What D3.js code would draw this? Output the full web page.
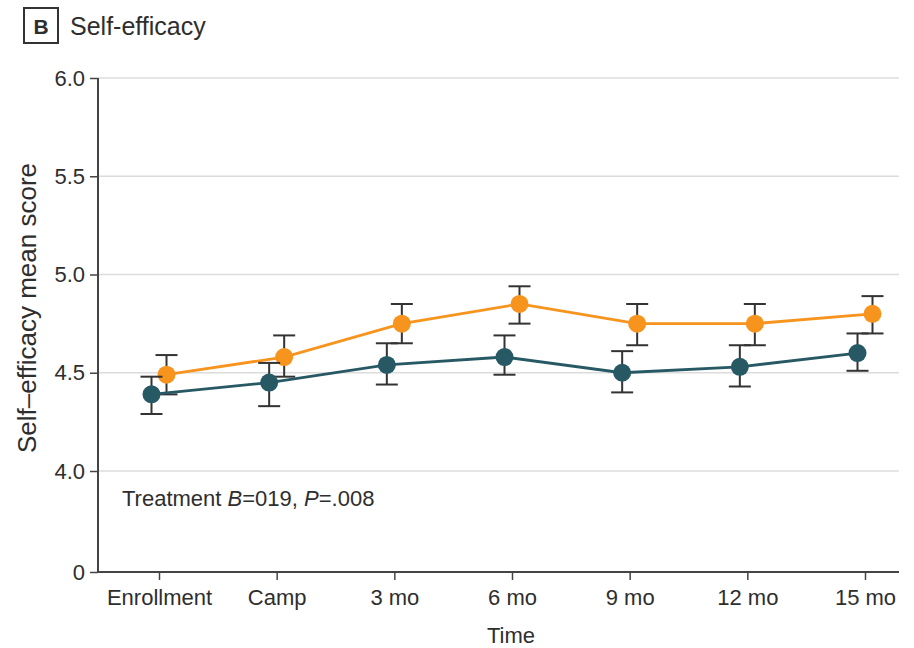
<!DOCTYPE html>
<html>
<head>
<meta charset="utf-8">
<script src="https://cdn.jsdelivr.net/npm/d3@7"></script>
<style>
  body { margin: 0; background: #fff; }
  svg { display: block; font-family: "Liberation Sans", Arial, sans-serif; }
</style>
</head>
<body>
<svg id="chart" width="914" height="648"></svg>
<script>
// Time points
const timepoints = ["Enrollment", "Camp", "3 mo", "6 mo", "9 mo", "12 mo", "15 mo"];

// Mean self-efficacy score with 95% CI, intervention group
const interventionMean = [4.49, 4.58, 4.75, 4.85, 4.75, 4.75, 4.80];
const interventionLow  = [4.39, 4.48, 4.65, 4.75, 4.64, 4.64, 4.70];
const interventionHigh = [4.59, 4.69, 4.85, 4.94, 4.85, 4.85, 4.89];

// Mean self-efficacy score with 95% CI, control group
const controlMean = [4.39, 4.45, 4.54, 4.58, 4.50, 4.53, 4.60];
const controlLow  = [4.29, 4.33, 4.44, 4.49, 4.40, 4.43, 4.51];
const controlHigh = [4.48, 4.55, 4.65, 4.69, 4.61, 4.64, 4.70];

// Y axis ticks (broken axis between 0 and 4.0)
const yTicks = [0, 4.0, 4.5, 5.0, 5.5, 6.0];

const svg = d3.select("#chart");
const textColor = "#2e2e2e";

// Scales
const x = d3.scalePoint().domain(timepoints).range([159, 865]);
const y = d3.scaleLinear().domain([0, 4, 6]).range([572, 471, 78]);

// Gridlines
svg.append("g")
  .selectAll("line")
  .data(yTicks.filter(d => d > 0))
  .join("line")
  .attr("x1", 98).attr("x2", 899)
  .attr("y1", d => y(d)).attr("y2", d => y(d))
  .attr("stroke", "#dcdcdc").attr("stroke-width", 1.5);

// Y axis
const yAxis = svg.append("g")
  .attr("transform", "translate(98,0)")
  .call(d3.axisLeft(y).tickValues(yTicks)
    .tickFormat(d => d === 0 ? "0" : d3.format(".1f")(d))
    .tickSize(8).tickPadding(5));
yAxis.select(".domain").attr("stroke", "#444").attr("stroke-width", 2).attr("d", "M0,78V572");
yAxis.selectAll(".tick line").attr("stroke", "#444").attr("stroke-width", 1.5);
yAxis.selectAll(".tick text").attr("fill", textColor).style("font-size", "22px")
  .style("font-family", "Liberation Sans, Arial, sans-serif");

// X axis
const xAxis = svg.append("g")
  .attr("transform", "translate(0,572)")
  .call(d3.axisBottom(x).tickSize(8).tickSizeOuter(0).tickPadding(9));
xAxis.select(".domain").attr("stroke", "#444").attr("stroke-width", 2).attr("d", "M98,0H899");
xAxis.selectAll(".tick line").attr("stroke", "#444").attr("stroke-width", 1.5);
xAxis.selectAll(".tick text").attr("fill", textColor).style("font-size", "22px")
  .style("font-family", "Liberation Sans, Arial, sans-serif");

// Series
const dodge = 7.5;
const series = [
  { name: "Control", color: "#275965", offset: -dodge, mean: controlMean, low: controlLow, high: controlHigh },
  { name: "Intervention", color: "#F7941E", offset: dodge, mean: interventionMean, low: interventionLow, high: interventionHigh }
];

const line = d3.line()
  .x(d => d.x)
  .y(d => y(d.v));

// Draw intervention first, control on top
[series[1], series[0]].forEach(s => {
  const pts = timepoints.map((t, i) => ({ x: x(t) + s.offset, v: s.mean[i], lo: s.low[i], hi: s.high[i] }));
  const g = svg.append("g").attr("class", "series");

  // Error bars
  const eb = g.append("g").selectAll("g").data(pts).join("g");
  eb.append("line")
    .attr("x1", d => d.x).attr("x2", d => d.x)
    .attr("y1", d => y(d.lo)).attr("y2", d => y(d.hi))
    .attr("stroke", "#333").attr("stroke-width", 2);
  eb.append("line")
    .attr("x1", d => d.x - 11).attr("x2", d => d.x + 11)
    .attr("y1", d => y(d.hi)).attr("y2", d => y(d.hi))
    .attr("stroke", "#333").attr("stroke-width", 2);
  eb.append("line")
    .attr("x1", d => d.x - 11).attr("x2", d => d.x + 11)
    .attr("y1", d => y(d.lo)).attr("y2", d => y(d.lo))
    .attr("stroke", "#333").attr("stroke-width", 2);

  // Connecting line
  g.append("path")
    .datum(pts)
    .attr("d", line)
    .attr("fill", "none")
    .attr("stroke", s.color)
    .attr("stroke-width", 2.8);

  // Markers
  g.append("g").selectAll("circle").data(pts).join("circle")
    .attr("cx", d => d.x).attr("cy", d => y(d.v))
    .attr("r", 9)
    .attr("fill", s.color);
});

// Annotation
const note = svg.append("text")
  .attr("x", 122).attr("y", 506)
  .attr("fill", textColor).style("font-size", "22px");
note.append("tspan").text("Treatment ");
note.append("tspan").style("font-style", "italic").text("B");
note.append("tspan").text("=019, ");
note.append("tspan").style("font-style", "italic").text("P");
note.append("tspan").text("=.008");

// Axis titles
svg.append("text")
  .attr("x", 511).attr("y", 643)
  .attr("text-anchor", "middle")
  .attr("fill", textColor).style("font-size", "22px")
  .text("Time");

svg.append("text")
  .attr("transform", "translate(36,308) rotate(-90)")
  .attr("text-anchor", "middle")
  .attr("fill", textColor).style("font-size", "26px")
  .text("Self–efficacy mean score");

// Panel label and title
svg.append("rect")
  .attr("x", 24).attr("y", 8).attr("width", 34).attr("height", 35)
  .attr("fill", "none").attr("stroke", "#333").attr("stroke-width", 2);
svg.append("text")
  .attr("x", 41).attr("y", 34)
  .attr("text-anchor", "middle")
  .attr("fill", textColor).style("font-size", "21px").style("font-weight", "bold")
  .text("B");
svg.append("text")
  .attr("x", 70).attr("y", 35)
  .attr("fill", textColor).style("font-size", "25px")
  .text("Self-efficacy");
</script>
</body>
</html>
